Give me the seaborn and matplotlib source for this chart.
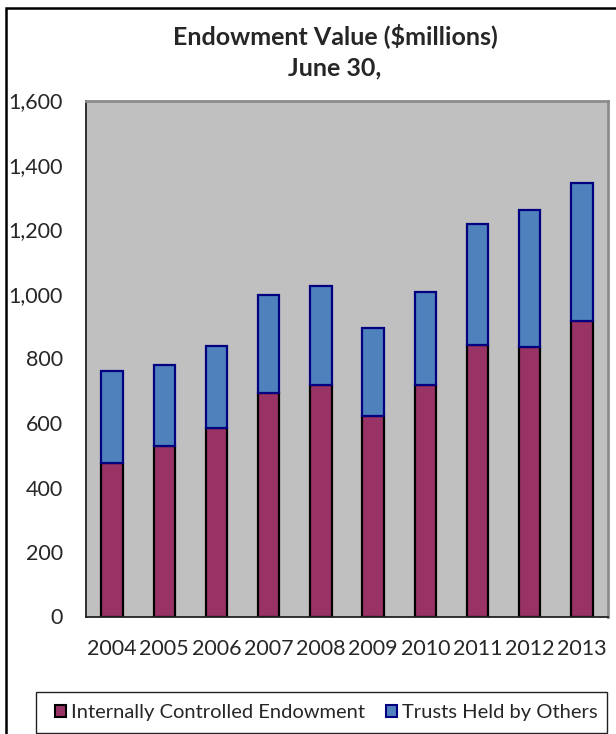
import numpy as np
import pandas as pd
import matplotlib
matplotlib.use("Agg")
import matplotlib.pyplot as plt
from matplotlib.patches import Rectangle
import seaborn as sns

# Datos
years = ["2004", "2005", "2006", "2007", "2008", "2009", "2010", "2011", "2012", "2013"]
internal = [476, 528, 584, 692, 719, 623, 719, 842, 836, 915]
trusts = [284, 252, 255, 306, 307, 273, 288, 374, 425, 429]
y_ticks = [0, 200, 400, 600, 800, 1000, 1200, 1400, 1600]

title = "Endowment Value ($millions)\nJune 30,"
labels = ["Internally Controlled Endowment", "Trusts Held by Others"]

red = "#993366"
blue = "#4F81BD"

df = pd.DataFrame({"year": years, "internal": internal, "trusts": trusts})

sns.set_style("white")
plt.rcParams["font.family"] = ["Lato", "DejaVu Sans"]

W, H = 616, 734
fig = plt.figure(figsize=(W / 100, H / 100), dpi=100)
ax = fig.add_axes([86 / W, 1 - 616.5 / H, (608 - 86) / W, (616.5 - 100.5) / H])
ax.set_facecolor("#C0C0C0")

# Barras apiladas
sns.barplot(data=df, x="year", y="internal", color=red, width=0.41, saturation=1,
            edgecolor="black", linewidth=1.6, ax=ax)
sns.barplot(data=df, x="year", y="trusts", color=blue, width=0.41, saturation=1,
            edgecolor="#000080", linewidth=1.6, bottom=df["internal"].values, ax=ax)

ax.set_ylim(0, 1600)
ax.set_xlim(-0.5, len(years) - 0.5)
ax.set_yticks(y_ticks)
ax.set_yticklabels([f"{v:,}" for v in y_ticks])
ax.set_xlabel("")
ax.set_ylabel("")

# ticks de categoria en los limites, etiquetas en el centro
ax.set_xticks(np.arange(-0.5, len(years), 1.0))
ax.set_xticklabels([])
ax.set_xticks(np.arange(len(years)), minor=True)
ax.set_xticklabels(years, minor=True)
ax.tick_params(axis="x", which="major", direction="inout", length=11, width=1, color="#333333")
ax.tick_params(axis="x", which="minor", length=0, pad=16, labelsize=15.5)
ax.tick_params(axis="y", direction="inout", length=11, width=1, color="#333333", pad=11, labelsize=15.5)

for s in ["left", "bottom"]:
    ax.spines[s].set_color("#222222")
    ax.spines[s].set_linewidth(1.3)
for s in ["top", "right"]:
    ax.spines[s].set_color("#8C8C8C")
    ax.spines[s].set_linewidth(2)
ax.grid(False)

# Titulo
fig.text(335 / W, 1 - 51 / H, title, ha="center", va="center", fontsize=18,
         fontweight="bold", linespacing=1.45)

# Leyenda
handles = [Rectangle((0, 0), 1, 1, facecolor=red, edgecolor="black", linewidth=1.5),
           Rectangle((0, 0), 1, 1, facecolor=blue, edgecolor="#000080", linewidth=1.5)]
fig.legend(handles, labels, loc="center", bbox_to_anchor=(326 / W, 1 - 712.5 / H),
           ncol=2, frameon=False, fontsize=14.5, handlelength=0.55, handleheight=0.55,
           handletextpad=0.25, columnspacing=1.05, borderpad=0)
fig.patches.append(Rectangle((36 / W, 1 - 733 / H), (607 - 36) / W, 41 / H, fill=False,
                             edgecolor="#222222", linewidth=1, transform=fig.transFigure))

# Marco exterior
fig.patches.append(Rectangle((6 / W, -0.1), 1.2, 1.1 - 8 / H, fill=False,
                             edgecolor="black", linewidth=1.8, transform=fig.transFigure,
                             clip_on=False))

fig.savefig("out.png", dpi=100)
